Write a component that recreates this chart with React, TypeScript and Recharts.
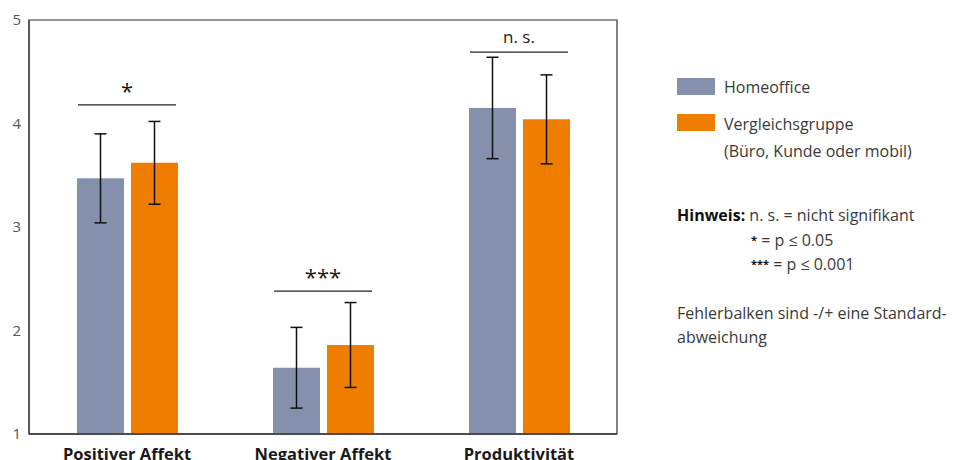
import React from "react"
import { ComposedChart, Bar, Line, XAxis, YAxis, ErrorBar, ReferenceArea } from "recharts"

const categories = ["Positiver Affekt", "Negativer Affekt", "Produktivität"]
const homeoffice = [3.47, 1.64, 4.15]
const homeofficeSd = [0.43, 0.39, 0.49]
const vergleich = [3.62, 1.86, 4.04]
const vergleichSd = [0.4, 0.41, 0.43]
const bracketLevel = [4.18, 2.38, 4.69]
const bracketLabel = ["*", "***", "n. s."]
const yTicks = [1, 2, 3, 4, 5]

const GRAY = "#8590ad"
const ORANGE = "#ee7d00"
const FONT = "'Open Sans', sans-serif"

const data = categories.map((name, i) => ({
  name,
  ho: homeoffice[i],
  hoSd: homeofficeSd[i],
  vg: vergleich[i],
  vgSd: vergleichSd[i],
  level: bracketLevel[i],
  sig: bracketLabel[i],
}))

function Bracket(props: any) {
  const { cx, cy, payload, index } = props
  if (cx == null || cy == null) return <g key={index} />
  const half = 49
  const isStar = payload.sig !== "n. s."
  return (
    <g key={index}>
      <line x1={cx - half} x2={cx + half} y1={cy} y2={cy} stroke="#222" strokeWidth={1.2} />
      <text
        x={cx}
        y={isStar ? cy - 6 : cy - 9}
        textAnchor="middle"
        fontFamily={FONT}
        fontSize={isStar ? 22 : 17}
        fill="#1a1a1a"
      >
        {payload.sig}
      </text>
    </g>
  )
}

const textStyle: React.CSSProperties = {
  position: "absolute",
  fontFamily: FONT,
  fontSize: 16,
  color: "#3a3a3a",
  whiteSpace: "nowrap",
  lineHeight: "20px",
}

export default function App() {
  return (
    <div style={{ position: "absolute", left: 0, top: 0, width: 962, height: 460, background: "#fff" }}>
      <ComposedChart
        width={962}
        height={460}
        data={data}
        margin={{ top: 20, right: 345, bottom: 0, left: 8 }}
        barCategoryGap={48}
        barGap={7}
      >
        <ReferenceArea y1={1} y2={5} fill="none" stroke="#333" strokeWidth={1.2} ifOverflow="visible" />
        <XAxis
          dataKey="name"
          height={26}
          axisLine={{ stroke: "#333", strokeWidth: 1.4 }}
          tickLine={false}
          tickMargin={8}
          tick={{ fontFamily: FONT, fontSize: 16.5, fontWeight: 700, fill: "#1a1a1a" }}
        />
        <YAxis
          type="number"
          domain={[1, 5]}
          ticks={yTicks}
          width={21}
          axisLine={{ stroke: "#333" }}
          tickLine={false}
          tickSize={0}
          tickMargin={8}
          tick={{ fontFamily: FONT, fontSize: 15, fill: "#555" }}
        />
        <Bar dataKey="ho" fill={GRAY} isAnimationActive={false}>
          <ErrorBar dataKey="hoSd" width={6} strokeWidth={1.5} stroke="#111" direction="y" isAnimationActive={false} />
        </Bar>
        <Bar dataKey="vg" fill={ORANGE} isAnimationActive={false}>
          <ErrorBar dataKey="vgSd" width={6} strokeWidth={1.5} stroke="#111" direction="y" isAnimationActive={false} />
        </Bar>
        <Line dataKey="level" stroke="none" dot={Bracket} activeDot={false} legendType="none" isAnimationActive={false} />
      </ComposedChart>

      <div style={{ position: "absolute", left: 677, top: 78, width: 38, height: 17, background: GRAY }} />
      <div style={{ ...textStyle, left: 724, top: 77 }}>Homeoffice</div>
      <div style={{ position: "absolute", left: 677, top: 114, width: 38, height: 17, background: ORANGE }} />
      <div style={{ ...textStyle, left: 724, top: 111, lineHeight: "27px" }}>
        Vergleichsgruppe
        <br />
        (Büro, Kunde oder mobil)
      </div>

      <div style={{ ...textStyle, left: 677, top: 203, lineHeight: "24px" }}>
        <b style={{ color: "#111" }}>Hinweis:</b> n. s. = nicht signifikant
      </div>
      <div style={{ ...textStyle, left: 751, top: 228, lineHeight: "24px" }}>
        <b style={{ fontSize: 11, verticalAlign: "top", color: "#111" }}>*</b> = p ≤ 0.05
        <br />
        <b style={{ fontSize: 11, verticalAlign: "top", color: "#111" }}>***</b> = p ≤ 0.001
      </div>
      <div style={{ ...textStyle, left: 677, top: 301, lineHeight: "24px" }}>
        Fehlerbalken sind -/+ eine Standard-
        <br />
        abweichung
      </div>
    </div>
  )
}
